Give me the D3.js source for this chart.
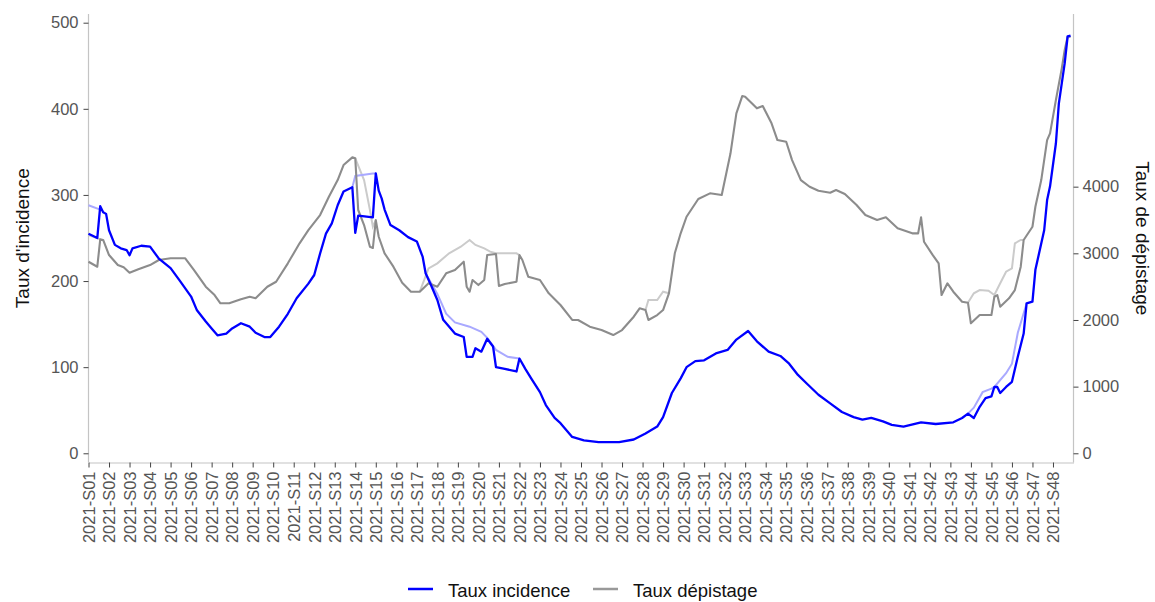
<!DOCTYPE html>
<html>
<head>
<meta charset="utf-8">
<script src="https://cdn.jsdelivr.net/npm/d3@7/dist/d3.min.js"></script>
<style>
  html, body { margin: 0; padding: 0; background: #fff; }
  svg { display: block; font-family: "Liberation Sans", Arial, sans-serif; }
</style>
</head>
<body>
<svg id="chart" width="1155" height="602"></svg>
<script>
// ---- Data (day index from start of 2021-S01) ----
const weekLabels = d3.range(1, 49).map(w => "2021-S" + String(w).padStart(2, "0"));
const weekDays = d3.range(0, 48).map(w => w * 7);

const incidenceDays = [0,3,4,5,6,7,9,11,13,14,15,18,21,24,28,31,35,37,40,42,44,47,49,52,55,57,60,62,65,68,71,75,77,79,81,83,85,87,90,91,92,97,98,99,100,101,103,106,109,112,114,115,117,119,121,125,128,129,131,132,134,136,138,139,142,146,147,149,151,154,156,159,161,165,169,174,181,186,190,194,196,199,202,204,207,210,214,218,221,225,228,232,236,239,242,245,249,253,257,261,264,267,271,274,278,284,289,295,298,300,302,304,306,308,309,310,311,313,315,317,319,320,322,323,326,327,328,330,331,333,334,335];
const incidenceValues = [255,250,287,280,278,259,242,238,236,230,238,241,240,226,215,201,182,166,153,145,137,139,145,151,147,140,135,135,147,162,180,197,207,232,255,267,288,304,309,256,276,274,325,305,296,283,265,259,251,246,228,209,194,178,155,139,135,112,112,122,118,133,124,100,98,95,110,98,87,71,56,41,35,19,15,13,13,16,23,31,42,70,87,100,107,108,116,120,132,142,130,118,113,104,91,81,68,58,48,42,39,41,37,33,31,36,34,36,41,46,41,54,64,66,77,77,70,77,83,112,139,174,176,213,259,294,310,360,406,453,484,485];

const depistageDays = [0,3,4,5,7,10,12,14,17,21,24,28,33,36,40,43,45,48,52,55,57,61,64,68,69,72,75,79,82,85,87,90,91,92,94,96,97,98,99,101,104,107,110,113,116,119,122,125,128,129,130,131,133,135,136,139,140,142,146,147,148,150,154,157,161,165,167,171,175,179,182,186,188,190,191,194,196,198,199,200,202,204,208,212,216,219,221,223,224,228,230,233,235,238,240,243,246,249,253,255,258,262,265,269,272,276,281,283,284,285,288,290,291,293,295,298,300,301,304,308,309,310,311,314,316,318,319,322,323,325,327,328,330,332,333,334,335];
const depistageValues = [2874,2799,3210,3200,2974,2824,2790,2709,2760,2824,2900,2925,2925,2749,2499,2374,2250,2250,2310,2349,2325,2499,2574,2850,2925,3150,3349,3574,3849,4099,4324,4440,4425,3650,3424,3099,3080,3499,3249,3000,2800,2560,2424,2424,2550,2499,2700,2749,2874,2499,2424,2600,2524,2600,2974,2990,2510,2540,2574,2974,2900,2649,2600,2400,2225,2000,2000,1899,1849,1774,1849,2049,2175,2149,2000,2074,2149,2400,2700,3000,3300,3549,3815,3900,3874,4500,5100,5359,5349,5175,5209,4950,4699,4674,4399,4099,3999,3939,3909,3949,3889,3724,3574,3499,3540,3375,3300,3300,3540,3174,2974,2850,2374,2550,2424,2274,2259,1950,2074,2074,2349,2374,2199,2325,2449,2799,3200,3399,3699,4099,4699,4800,5300,5775,6050,6249,6249];

// faint (earlier version) segments, null = gap
const incidenceBrutDays = [0,4,null,90,91,97,98,null,115,117,119,122,125,130,134,136,139,143,147,null,300,302,305,308,309,313,315,317,320];
const incidenceBrutValues = [288,283,null,309,322,325,325,null,209,197,185,162,152,147,141,134,120,112,110,null,46,53,71,75,77,93,104,140,174];

const depistageBrutDays = [0,4,null,91,94,96,97,98,null,113,116,119,123,127,130,132,135,137,139,146,147,null,190,191,194,196,198,null,300,302,304,307,309,311,313,315,316,318,319];
const depistageBrutValues = [3274,3210,null,4425,4099,3649,3400,3499,null,2424,2775,2850,3000,3099,3200,3125,3075,3025,3000,3000,2974,null,2149,2300,2300,2424,2400,null,2259,2400,2449,2440,2374,2550,2724,2775,3150,3200,3200];

const leftTicks = [0, 100, 200, 300, 400, 500];
const rightTicks = [0, 1000, 2000, 3000, 4000];

// ---- Layout ----
const svg = d3.select("#chart");
const pL = 88.5, pR = 1073.5, pT = 14, pB = 462.5;
const ratio = 12.92;

const x = d3.scaleLinear().domain([0, 336]).range([pL, pR]);
const y = d3.scaleLinear().domain([-10.7, 510.1]).range([pB, pT]);
const y2 = d3.scaleLinear().domain([-10.7 * ratio, 510.1 * ratio]).range([pB, pT]);

const zip = (ds, vs) => ds.map((d, i) => ({ d: d, v: vs[i] }));

const lineInc = d3.line().defined(p => p.v != null && p.d != null).x(p => x(p.d)).y(p => y(p.v));
const lineDep = d3.line().defined(p => p.v != null && p.d != null).x(p => x(p.d)).y(p => y2(p.v));

const axisColor = "#c4c4c4", tickColor = "#444", labelColor = "#555";

// axes
const gx = svg.append("g").attr("transform", `translate(0,${pB})`)
  .call(d3.axisBottom(x).tickValues(weekDays).tickFormat((d, i) => weekLabels[i]).tickSize(5).tickSizeOuter(0));
gx.selectAll("text")
  .attr("transform", "rotate(-90)")
  .attr("x", -9).attr("y", 0).attr("dy", "0.35em")
  .style("text-anchor", "end");

const gy = svg.append("g").attr("transform", `translate(${pL},0)`)
  .call(d3.axisLeft(y).tickValues(leftTicks).tickFormat(d3.format("d")).tickSize(5).tickPadding(5).tickSizeOuter(0));

const gy2 = svg.append("g").attr("transform", `translate(${pR},0)`)
  .call(d3.axisRight(y2).tickValues(rightTicks).tickFormat(d3.format("d")).tickSize(5).tickPadding(4).tickSizeOuter(0));

[gx, gy, gy2].forEach(g => {
  g.select(".domain").attr("stroke", axisColor).attr("stroke-width", 1.2);
  g.selectAll(".tick line").attr("stroke", tickColor).attr("stroke-width", 1);
  g.selectAll(".tick text").attr("fill", labelColor).style("font-size", "16.5px")
    .style("font-family", "'Liberation Sans', Arial, sans-serif");
});
gy.select(".domain").attr("d", `M0,${pT}V${pB}`);
gy2.select(".domain").attr("d", `M0,${pT}V${pB}`);

// lines (faint first)
svg.append("path").datum(zip(depistageBrutDays, depistageBrutValues))
  .attr("d", lineDep).attr("fill", "none").attr("stroke", "#cbcbcb").attr("stroke-width", 2);
svg.append("path").datum(zip(incidenceBrutDays, incidenceBrutValues))
  .attr("d", lineInc).attr("fill", "none").attr("stroke", "#a9a9ff").attr("stroke-width", 2);
svg.append("path").datum(zip(depistageDays, depistageValues))
  .attr("d", lineDep).attr("fill", "none").attr("stroke", "#8c8c8c").attr("stroke-width", 2.1)
  .attr("stroke-linejoin", "round");
svg.append("path").datum(zip(incidenceDays, incidenceValues))
  .attr("d", lineInc).attr("fill", "none").attr("stroke", "#0000ff").attr("stroke-width", 2.3)
  .attr("stroke-linejoin", "round");

// axis titles
svg.append("text")
  .attr("transform", `translate(22,${(pT + pB) / 2}) rotate(-90)`)
  .attr("text-anchor", "middle").attr("dy", "0.35em")
  .style("font-size", "19px").attr("fill", "#111")
  .text("Taux d'incidence");
svg.append("text")
  .attr("transform", `translate(1143,${(pT + pB) / 2}) rotate(90)`)
  .attr("text-anchor", "middle").attr("dy", "0.35em")
  .style("font-size", "19px").attr("fill", "#111")
  .text("Taux de dépistage");

// legend
const legendItems = [
  { label: "Taux incidence", color: "#0000ff", x: 408 },
  { label: "Taux dépistage", color: "#999999", x: 593 }
];
const lg = svg.append("g");
legendItems.forEach(it => {
  lg.append("line").attr("x1", it.x).attr("x2", it.x + 25).attr("y1", 589).attr("y2", 589)
    .attr("stroke", it.color).attr("stroke-width", 2.5);
  lg.append("text").attr("x", it.x + 40).attr("y", 596.5)
    .style("font-size", "18.5px").attr("fill", "#111").text(it.label);
});
</script>
</body>
</html>
